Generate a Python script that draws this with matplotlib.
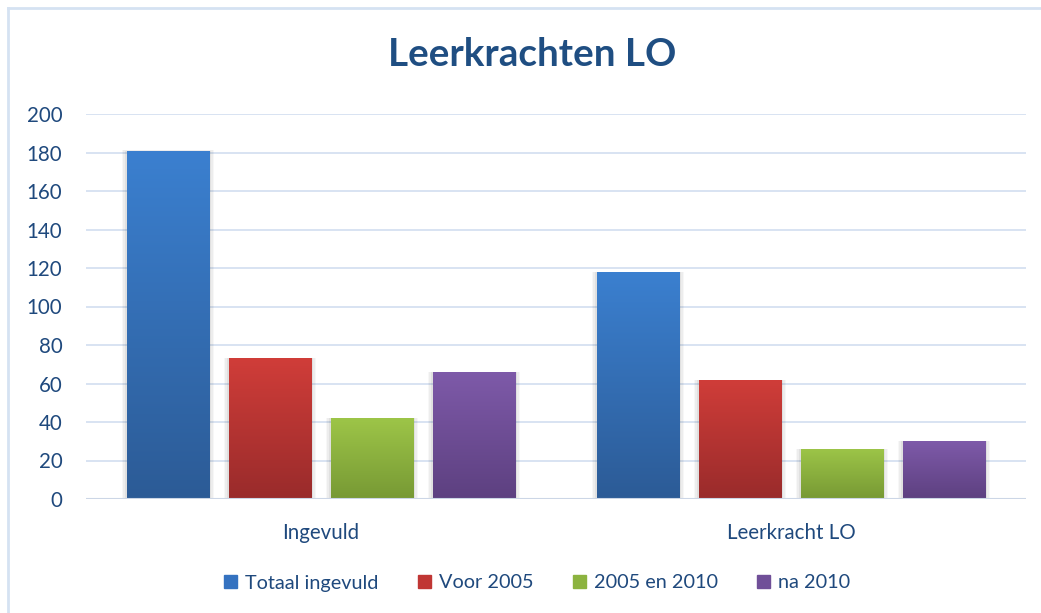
import numpy as np
import matplotlib
matplotlib.use("Agg")
import matplotlib.pyplot as plt
from matplotlib.patches import Rectangle
from matplotlib.lines import Line2D
from matplotlib.colors import LinearSegmentedColormap

categories = ["Ingevuld", "Leerkracht LO"]
series_names = ["Totaal ingevuld", "Voor 2005", "2005 en 2010", "na 2010"]
totaal_ingevuld = [181, 118]
voor_2005 = [73, 62]
tussen_2005_2010 = [42, 26]
na_2010 = [66, 30]
series_values = [totaal_ingevuld, voor_2005, tussen_2005_2010, na_2010]
yticks = [0, 20, 40, 60, 80, 100, 120, 140, 160, 180, 200]
title = "Leerkrachten LO"

top_colors = ["#3b80d0", "#d03d39", "#9dc548", "#7e5aa9"]
bottom_colors = ["#2c5b96", "#992b2b", "#779934", "#5d4080"]
legend_colors = ["#3472c0", "#c03634", "#8cb33f", "#704f98"]

text_color = "#1f497d"
grid_color = "#d6e1f1"

plt.rcParams['font.family'] = ['Lato', 'DejaVu Sans']

fig = plt.figure(figsize=(10.41, 6.13), dpi=100)
W, H = 1041, 613
ax = fig.add_axes([86 / W, (H - 499) / H, 940 / W, 385 / H])

x = np.arange(len(categories))
width = 83 / 470
step = 102 / 470
offsets = (np.arange(len(series_names)) - 1.5) * step

for i, (name, vals) in enumerate(zip(series_names, series_values)):
    bars = ax.bar(x + offsets[i], vals, width=width, color=legend_colors[i],
                  label=name, zorder=3, linewidth=0)
    cmap = LinearSegmentedColormap.from_list("g%d" % i, [bottom_colors[i], top_colors[i]])
    grad = np.linspace(0, 1, 256).reshape(-1, 1)
    for b in bars:
        bx, by = b.get_x(), b.get_y()
        bw, bh = b.get_width(), b.get_height()
        # soft shadow
        for k, a in enumerate([0.05, 0.04, 0.03]):
            d = (k + 1) * 0.0035
            sh = Rectangle((bx - d, by), bw + 2 * d, bh + d * 6, color="black",
                           alpha=a, zorder=2, linewidth=0)
            ax.add_patch(sh)
        im = ax.imshow(grad, extent=[bx, bx + bw, by, by + bh], origin="lower",
                       cmap=cmap, aspect="auto", zorder=4, interpolation="bicubic")
        im.set_clip_path(b)

ax.set_xlim(-0.5, 1.5)
ax.set_ylim(0, 200)
ax.set_yticks(yticks)
ax.set_yticklabels([str(t) for t in yticks])
ax.set_xticks(x)
ax.set_xticklabels(categories)
ax.tick_params(axis="both", length=0, labelsize=14.8, colors=text_color)
ax.tick_params(axis="y", pad=17)
ax.tick_params(axis="x", pad=17)
ax.grid(axis="y", color=grid_color, linewidth=1.3, zorder=0)
for s in ax.spines.values():
    s.set_visible(False)
ax.axhline(0, color="#ccd6e6", linewidth=1.5, zorder=5)

fig.text(532 / W, 1 - 55 / H, title, ha="center", va="center",
         fontsize=27.8, fontweight="bold", color="#1f4e82")

handles = [Rectangle((0, 0), 1, 1, color=c) for c in legend_colors]
leg = fig.legend(handles, series_names, loc="center", bbox_to_anchor=(537 / W, 1 - 583 / H),
                 ncol=4, frameon=False, fontsize=14.3, handlelength=0.65, handleheight=0.65,
                 handletextpad=0.4, columnspacing=2.0, labelcolor=text_color)

# outer border (top and left visible)
fig.add_artist(Line2D([8 / W, 1.01], [1 - 8 / H, 1 - 8 / H], transform=fig.transFigure,
                      color="#d5e2f2", linewidth=2))
fig.add_artist(Line2D([8 / W, 8 / W], [1 - 8 / H, -0.01], transform=fig.transFigure,
                      color="#d5e2f2", linewidth=2))

fig.savefig("out.png", dpi=100)
